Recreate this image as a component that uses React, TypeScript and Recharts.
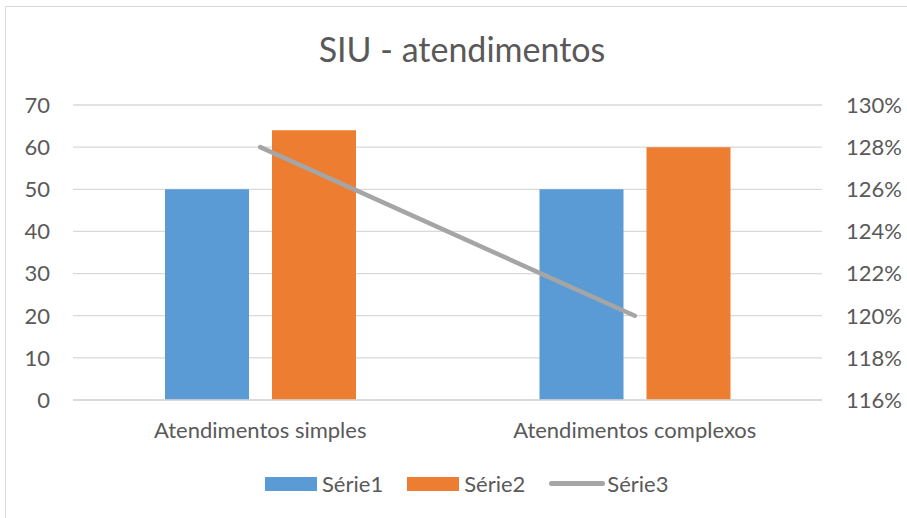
import {
  ComposedChart,
  Bar,
  Line,
  XAxis,
  YAxis,
  CartesianGrid,
} from "recharts"

const categories = ["Atendimentos simples", "Atendimentos complexos"]
const serie1 = [50, 50]
const serie2 = [64, 60]
const serie3 = [1.28, 1.2]
const seriesNames = ["Série1", "Série2", "Série3"]
const leftTicks = [0, 10, 20, 30, 40, 50, 60, 70]
const rightTicks = [1.16, 1.18, 1.2, 1.22, 1.24, 1.26, 1.28, 1.3]

const colors = ["#5B9BD5", "#ED7D31", "#A5A5A5"]
const textColor = "#595959"
const font = "Lato, 'Open Sans', sans-serif"

const data = categories.map((c, i) => ({
  name: c,
  s1: serie1[i],
  s2: serie2[i],
  s3: serie3[i],
}))

export default function App() {
  const tick = { fill: textColor, fontSize: 22, fontFamily: font }

  return (
    <div
      style={{
        position: "absolute",
        left: 0,
        top: 0,
        width: 907,
        height: 518,
        overflow: "hidden",
        background: "#fff",
      }}
    >
      {/* moldura do gráfico */}
      <div
        style={{
          position: "absolute",
          left: 5,
          top: 6,
          width: 1000,
          height: 1000,
          border: "1px solid #d9d9d9",
        }}
      />

      <div
        style={{
          position: "absolute",
          left: 0,
          top: 28,
          width: 924,
          textAlign: "center",
          fontFamily: font,
          fontSize: 34,
          color: textColor,
        }}
      >
        SIU - atendimentos
      </div>

      <div style={{ position: "absolute", left: 0, top: 0 }}>
        <ComposedChart
          width={907}
          height={518}
          data={data}
          margin={{ top: 105, right: 0, bottom: 88, left: 0 }}
          barGap={23}
        >
          <CartesianGrid
            yAxisId="left"
            vertical={false}
            stroke="#d9d9d9"
            strokeWidth={1.3}
          />
          <XAxis
            dataKey="name"
            axisLine={{ stroke: "#d9d9d9", strokeWidth: 1.3 }}
            tickLine={false}
            tickSize={0}
            tickMargin={22}
            height={30}
            tick={tick}
          />
          <YAxis
            yAxisId="left"
            domain={[0, 70]}
            ticks={leftTicks}
            width={73}
            axisLine={false}
            tickLine={false}
            tickSize={0}
            tickMargin={23}
            tick={tick}
          />
          <YAxis
            yAxisId="right"
            orientation="right"
            domain={[1.16, 1.3]}
            ticks={rightTicks}
            width={85}
            axisLine={false}
            tickLine={false}
            tickSize={0}
            tickMargin={24}
            tick={tick}
            tickFormatter={(v: number) => `${Math.round(v * 100)}%`}
          />
          <Bar
            yAxisId="left"
            dataKey="s1"
            name={seriesNames[0]}
            fill={colors[0]}
            barSize={84}
            isAnimationActive={false}
          />
          <Bar
            yAxisId="left"
            dataKey="s2"
            name={seriesNames[1]}
            fill={colors[1]}
            barSize={84}
            isAnimationActive={false}
          />
          <Line
            yAxisId="right"
            dataKey="s3"
            name={seriesNames[2]}
            stroke={colors[2]}
            strokeWidth={4.5}
            strokeLinecap="round"
            dot={false}
            activeDot={false}
            isAnimationActive={false}
          />
        </ComposedChart>
      </div>

      {/* legenda */}
      <div
        style={{
          position: "absolute",
          left: 265,
          top: 470,
          display: "flex",
          alignItems: "center",
          fontFamily: font,
          fontSize: 22,
          color: textColor,
          whiteSpace: "nowrap",
        }}
      >
        {seriesNames.map((n, i) => (
          <div
            key={n}
            style={{ display: "flex", alignItems: "center", marginRight: i < 2 ? 24 : 0 }}
          >
            {i < 2 ? (
              <div style={{ width: 52, height: 14, background: colors[i] }} />
            ) : (
              <div
                style={{
                  width: 56,
                  height: 5,
                  borderRadius: 3,
                  background: colors[i],
                }}
              />
            )}
            <span style={{ marginLeft: i < 2 ? 5 : 2 }}>{n}</span>
          </div>
        ))}
      </div>
    </div>
  )
}
